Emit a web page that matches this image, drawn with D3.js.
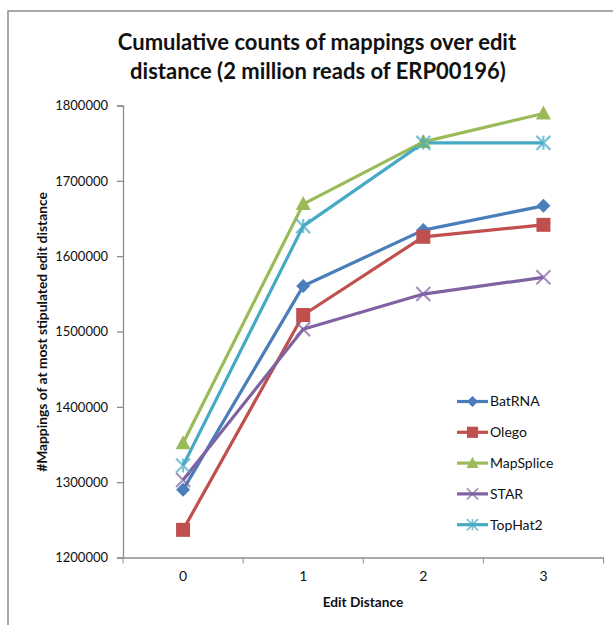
<!DOCTYPE html>
<html>
<head>
<meta charset="utf-8">
<script src="https://cdn.jsdelivr.net/npm/d3@7"></script>
<style>
  body { margin: 0; background: #fff; }
  svg { display: block; font-family: Lato, "Open Sans", sans-serif; }
</style>
</head>
<body>
<div id="chart"></div>
<script>
const editDistances = ['0', '1', '2', '3'];
const seriesNames = ['BatRNA', 'Olego', 'MapSplice', 'STAR', 'TopHat2'];
const batRNA = [1289800, 1560300, 1634600, 1666800];
const olego = [1236700, 1521900, 1625700, 1641600];
const mapSplice = [1351700, 1669100, 1751700, 1789400];
const star = [1303000, 1502900, 1549700, 1571900];
const topHat2 = [1322000, 1639900, 1750400, 1750400];
const yTicks = [1200000, 1300000, 1400000, 1500000, 1600000, 1700000, 1800000];

const seriesValues = [batRNA, olego, mapSplice, star, topHat2];
const colors = ['#4a7ebb', '#c0504d', '#9bbb59', '#7f62a1', '#46aac5'];
const markers = ['diamond', 'square', 'triangle', 'x', 'star'];

const W = 613, H = 625;
const margin = { left: 123, right: 10, top: 105.5, bottom: 67.5 };

const svg = d3.select('#chart').append('svg')
  .attr('width', W)
  .attr('height', H);

// outer chart frame
svg.append('rect')
  .attr('x', 8).attr('y', 11)
  .attr('width', W + 20).attr('height', H + 20)
  .attr('fill', 'none')
  .attr('stroke', '#8c8c8c')
  .attr('stroke-width', 1.5);

const x = d3.scaleBand()
  .domain(editDistances)
  .range([margin.left, 603.5]);

const y = d3.scaleLinear()
  .domain([1200000, 1800000])
  .range([H - margin.bottom, margin.top]);

// title
svg.append('text')
  .attr('x', 317).attr('y', 50)
  .attr('text-anchor', 'middle')
  .attr('font-size', 22).attr('font-weight', 'bold')
  .attr('fill', '#111')
  .text('Cumulative counts of mappings over edit');
svg.append('text')
  .attr('x', 318).attr('y', 79)
  .attr('text-anchor', 'middle')
  .attr('font-size', 22).attr('font-weight', 'bold')
  .attr('fill', '#111')
  .text('distance (2 million reads of ERP00196)');

// y axis
const yAxis = svg.append('g')
  .attr('transform', `translate(${margin.left},0)`)
  .call(d3.axisLeft(y).tickValues(yTicks).tickSize(6).tickPadding(9).tickFormat(d3.format('d')));
yAxis.selectAll('text').attr('font-size', 13).attr('fill', '#111')
  .attr('font-family', 'Lato, "Open Sans", sans-serif');

// x axis
const xAxis = svg.append('g')
  .attr('transform', `translate(0,${H - margin.bottom})`)
  .call(d3.axisBottom(x).tickSize(0).tickPadding(14));
xAxis.selectAll('text').attr('font-size', 14).attr('fill', '#111')
  .attr('font-family', 'Lato, "Open Sans", sans-serif');
const bounds = [margin.left].concat(editDistances.map(d => x(d) + x.bandwidth()));
xAxis.selectAll('.sep')
  .data(bounds)
  .enter().append('line')
  .attr('class', 'sep')
  .attr('x1', d => d).attr('x2', d => d)
  .attr('y1', 0).attr('y2', 6)
  .attr('stroke', '#8c8c8c');

svg.selectAll('.domain, .tick line').attr('stroke', '#8c8c8c').attr('stroke-width', 1.3);

// axis titles
svg.append('text')
  .attr('transform', 'translate(47,332) rotate(-90)')
  .attr('text-anchor', 'middle')
  .attr('font-size', 13.8).attr('font-weight', 'bold')
  .attr('fill', '#111')
  .text('#Mappings of at most stipulated edit distance');
svg.append('text')
  .attr('x', 363).attr('y', 607)
  .attr('text-anchor', 'middle')
  .attr('font-size', 13.7).attr('font-weight', 'bold')
  .attr('fill', '#111')
  .text('Edit Distance');

function drawMarker(g, type, color) {
  const s = 7;
  if (type === 'diamond') {
    g.append('path').attr('d', `M0,${-s}L${s},0L0,${s}L${-s},0Z`).attr('fill', color);
  } else if (type === 'square') {
    g.append('rect').attr('x', -s).attr('y', -s).attr('width', 2 * s).attr('height', 2 * s).attr('fill', color);
  } else if (type === 'triangle') {
    g.append('path').attr('d', `M0,${-s - 1}L${s + 0.5},${s - 1}L${-s - 0.5},${s - 1}Z`).attr('fill', color);
  } else if (type === 'x') {
    g.append('path').attr('d', `M${-s},${-s}L${s},${s}M${-s},${s}L${s},${-s}`)
      .attr('stroke', color).attr('stroke-width', 2.2).attr('opacity', 0.7);
  } else {
    g.append('path').attr('d', `M${-s},${-s}L${s},${s}M${-s},${s}L${s},${-s}M0,${-s}L0,${s}`)
      .attr('stroke', color).attr('stroke-width', 2.2).attr('opacity', 0.7);
  }
}

const cx = d => x(d) + x.bandwidth() / 2;
const line = d3.line()
  .x((d, i) => cx(editDistances[i]))
  .y(d => y(d));

seriesValues.forEach((vals, k) => {
  svg.append('path')
    .datum(vals)
    .attr('d', line)
    .attr('fill', 'none')
    .attr('stroke', colors[k])
    .attr('stroke-width', 3.2)
    .attr('stroke-linejoin', 'round');
});

seriesValues.forEach((vals, k) => {
  vals.forEach((v, i) => {
    const g = svg.append('g').attr('transform', `translate(${cx(editDistances[i])},${y(v)})`);
    drawMarker(g, markers[k], colors[k]);
  });
});

// legend
const legend = svg.append('g').attr('transform', 'translate(457,401.5)');
seriesNames.forEach((name, k) => {
  const row = legend.append('g').attr('transform', `translate(0,${k * 30.8})`);
  row.append('line')
    .attr('x1', 0).attr('x2', 31)
    .attr('stroke', colors[k]).attr('stroke-width', 3.2);
  const m = row.append('g').attr('transform', 'translate(15.5,0) scale(0.8)');
  drawMarker(m, markers[k], colors[k]);
  row.append('text')
    .attr('x', 33).attr('y', 0)
    .attr('dy', '0.35em')
    .attr('font-size', 14)
    .attr('fill', '#111')
    .text(name);
});
</script>
</body>
</html>
